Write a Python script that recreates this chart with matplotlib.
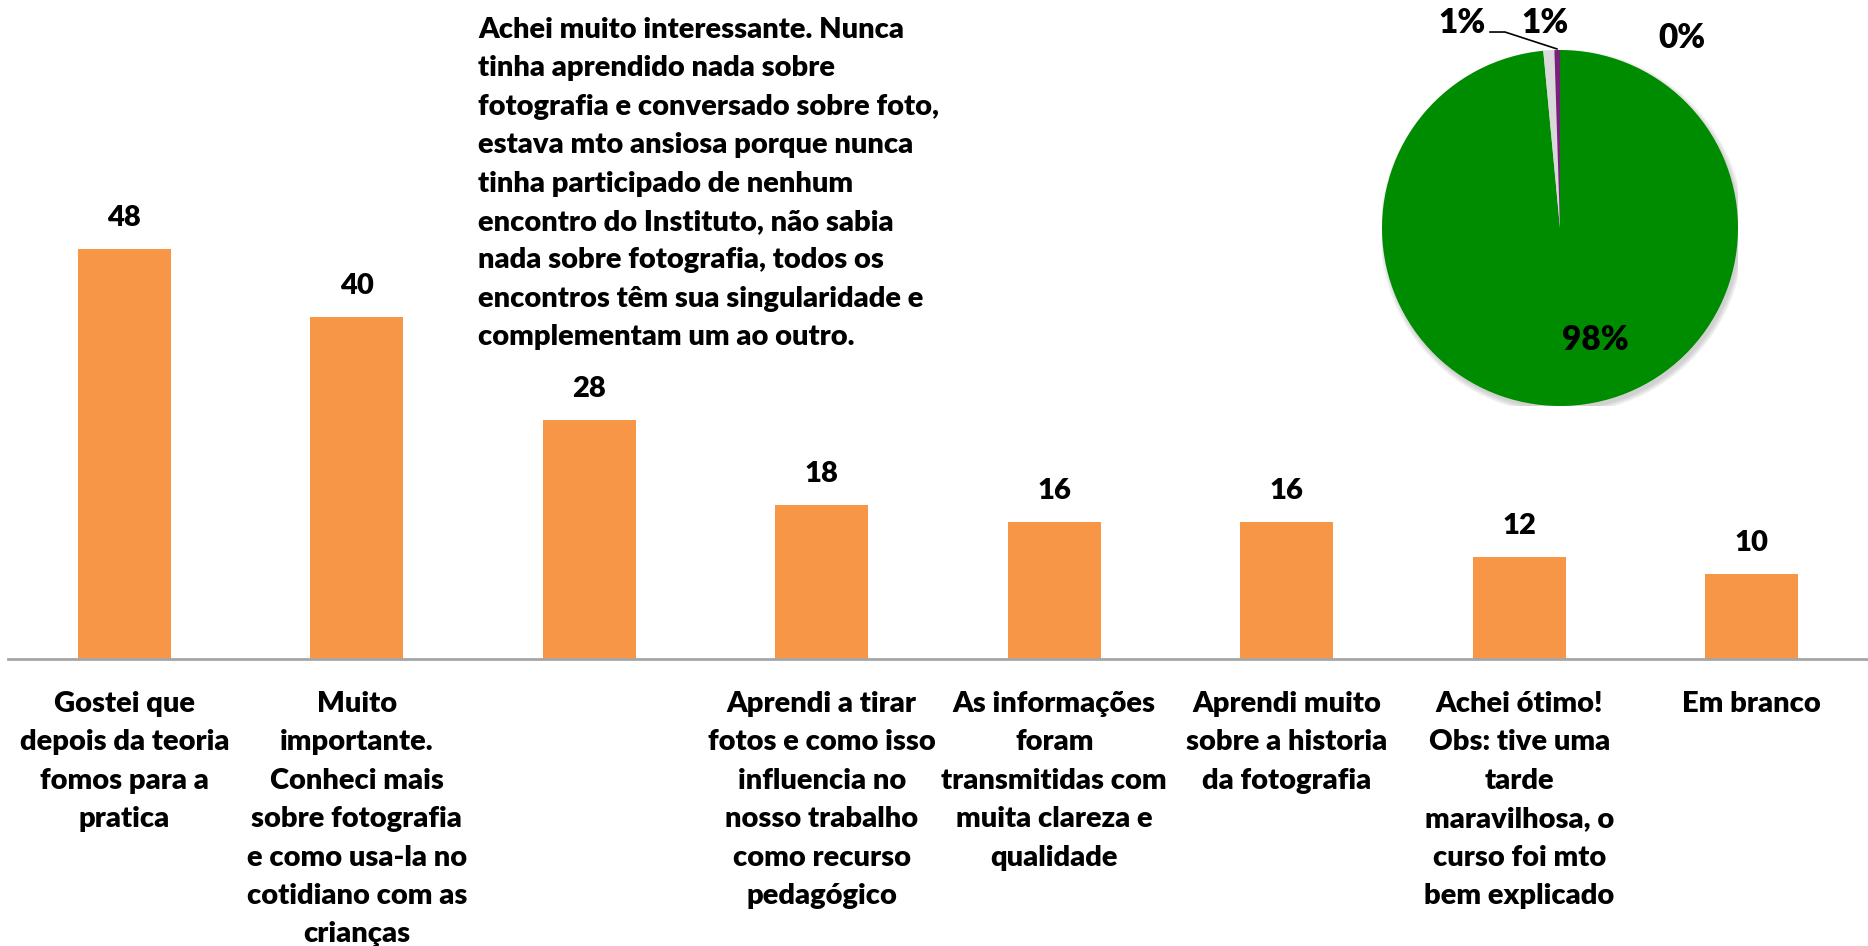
import numpy as np
import matplotlib.pyplot as plt
from matplotlib.patches import Circle

plt.rcParams['font.family'] = ['Lato', 'DejaVu Sans']

categories = [
    'Gostei que\ndepois da teoria\nfomos para a\npratica',
    'Muito\nimportante.\nConheci mais\nsobre fotografia\ne como usa-la no\ncotidiano com as\ncrianças',
    'Achei muito interessante. Nunca\ntinha aprendido nada sobre\nfotografia e conversado sobre foto,\n'
    'estava mto ansiosa porque nunca\ntinha participado de nenhum\nencontro do Instituto, não sabia\n'
    'nada sobre fotografia, todos os\nencontros têm sua singularidade e\ncomplementam um ao outro.',
    'Aprendi a tirar\nfotos e como isso\ninfluencia no\nnosso trabalho\ncomo recurso\npedagógico',
    'As informações\nforam\ntransmitidas com\nmuita clareza e\nqualidade',
    'Aprendi muito\nsobre a historia\nda fotografia',
    'Achei ótimo!\nObs: tive uma\ntarde\nmaravilhosa, o\ncurso foi mto\nbem explicado',
    'Em branco',
]
counts = [48, 40, 28, 18, 16, 16, 12, 10]

pie_values = [98.5, 1.0, 0.5, 0.0]
pie_labels = ['98%', '1%', '1%', '0%']
pie_colors = ['#008C00', '#D9D9D9', '#7B1F7E', '#4F81BD']

W, H = 1868, 946
fig = plt.figure(figsize=(W / 100, H / 100), dpi=100)

# bar chart
base = 659
ppu = 8.54  # pixels per unit
ax = fig.add_axes([8 / W, 1 - base / H, 1 - 8 / W, base / H])
x = np.arange(len(counts))
ax.bar(x, counts, width=0.40, color='#F79646', zorder=2)
ax.set_xlim(-0.5, len(counts) - 0.5)
ax.set_ylim(0, base / ppu)
for s in ['top', 'right', 'left']:
    ax.spines[s].set_visible(False)
ax.spines['bottom'].set_color('#A6A6A6')
ax.spines['bottom'].set_linewidth(2)
ax.set_yticks([])
ax.set_xticks([])

fs = 21
fw = 'heavy'
ls = 1.59
for i, v in enumerate(counts):
    ax.text(i, v + 31 / ppu, str(v), ha='center', va='center', fontsize=fs, fontweight=fw)
    if i == 2:
        continue
    ax.text(i, -32 / ppu, categories[i], ha='center', va='top', fontsize=fs,
            fontweight=fw, linespacing=ls, clip_on=False)

# long comment of the third category placed above the chart
fig.text(478 / W, 1 - 17 / H, categories[2], ha='left', va='top', fontsize=fs,
         fontweight=fw, linespacing=ls)

# pie chart
cx, cy, r = 1560, 228, 178
pax = fig.add_axes([(cx - r) / W, 1 - (cy + r) / H, 2 * r / W, 2 * r / H])
for k in range(4):
    pax.add_patch(Circle((0.012, -0.02), 1.0 + 0.008 * k, color='#909090',
                         alpha=0.12, lw=0, zorder=0))
pax.pie(pie_values, colors=pie_colors, startangle=90, counterclock=False,
        radius=1, wedgeprops=dict(linewidth=0, zorder=2))
pax.set_xlim(-1, 1)
pax.set_ylim(-1, 1)
pax.set_aspect('equal')
pax.axis('off')

label_pos = [(0.197, -0.629), (-0.55, 1.152), (-0.084, 1.152), (0.685, 1.067)]
for lab, (lx, ly) in zip(pie_labels, label_pos):
    pax.text(lx, ly, lab, ha='center', va='center', fontsize=24, fontweight=fw,
             clip_on=False, zorder=3)
pax.plot([-0.393, -0.309, -0.017], [1.101, 1.101, 1.006], color='black', lw=1.2,
         clip_on=False, zorder=3)

fig.savefig('out.png', dpi=100)
